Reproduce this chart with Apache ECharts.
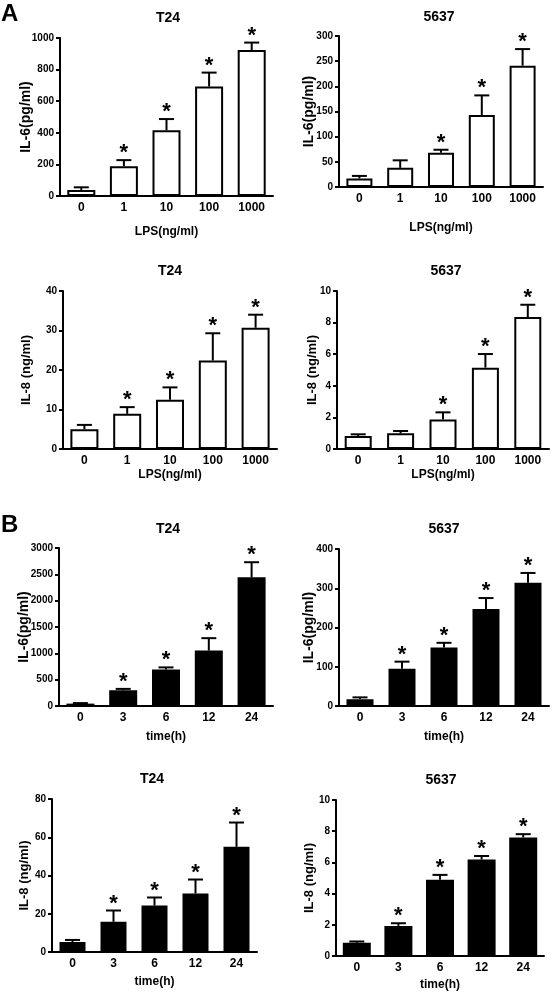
<!DOCTYPE html>
<html><head><meta charset="utf-8">
<script src="https://cdn.jsdelivr.net/npm/echarts@6/dist/echarts.min.js"></script>
<style>html,body{margin:0;padding:0;background:#fff}#c{width:552px;height:992px}</style>
</head><body><div id="c"></div>
<script>
// ---- data ----
const lpsCats = ['0','1','10','100','1000'];
const timeCats = ['0','3','6','12','24'];

const t24Il6Lps = [38,189,416,693,924];
const t24Il6LpsSd = [17,38,71,88,47];
const t24Il6LpsSig = [0,1,1,1,1];

const c5637Il6Lps = [17,38,68,143,241];
const c5637Il6LpsSd = [5,15,6,39,33];
const c5637Il6LpsSig = [0,0,1,1,1];

const t24Il8Lps = [5.0,8.9,12.5,22.4,30.7];
const t24Il8LpsSd = [1.1,1.7,3.1,6.9,3.3];
const t24Il8LpsSig = [0,1,1,1,1];

const c5637Il8Lps = [0.82,0.99,1.86,5.15,8.35];
const c5637Il8LpsSd = [0.11,0.15,0.46,0.86,0.78];
const c5637Il8LpsSig = [0,0,1,1,1];

const t24Il6Time = [45,300,695,1052,2443];
const t24Il6TimeSd = [10,25,38,236,287];
const t24Il6TimeSig = [0,1,1,1,1];

const c5637Il6Time = [17,95,149,247,314];
const c5637Il6TimeSd = [5,18,12,28,25];
const c5637Il6TimeSig = [0,1,1,1,1];

const t24Il8Time = [5.2,15.8,24.3,30.6,55.0];
const t24Il8TimeSd = [1.1,5.9,4.2,7.3,12.7];
const t24Il8TimeSig = [0,1,1,1,1];

const c5637Il8Time = [0.85,1.93,4.88,6.18,7.6];
const c5637Il8TimeSd = [0.08,0.17,0.32,0.23,0.21];
const c5637Il8TimeSig = [0,1,1,1,1];

const yMaxes = [1000,300,40,10,3000,400,80,10];
const yIntervals = [200,50,10,2,500,100,20,2];

// ---- layout ----
const FONT = '"Liberation Sans", Arial, sans-serif';
const panels = [
  {cats:lpsCats, v:t24Il6Lps, sd:t24Il6LpsSd, sig:t24Il6LpsSig, title:'T24', xName:'LPS(ng/ml)', yName:'IL-6(pg/ml)', fill:'#fff',
   g:{left:60,top:38,width:213,height:158}, tx:168, ty:18, xGap:30, yGap:27, ynFont:14, bw:28},
  {cats:lpsCats, v:c5637Il6Lps, sd:c5637Il6LpsSd, sig:c5637Il6LpsSig, title:'5637', xName:'LPS(ng/ml)', yName:'IL-6(pg/ml)', fill:'#fff',
   g:{left:339,top:36,width:204,height:151}, tx:439, ty:17, xGap:35, yGap:23, ynFont:14, bw:26},
  {cats:lpsCats, v:t24Il8Lps, sd:t24Il8LpsSd, sig:t24Il8LpsSig, title:'T24', xName:'LPS(ng/ml)', yName:'IL-8 (ng/ml)', fill:'#fff',
   g:{left:63,top:291,width:214,height:158}, tx:170, ty:271, xGap:20, yGap:30, ynFont:13, bw:28},
  {cats:lpsCats, v:c5637Il8Lps, sd:c5637Il8LpsSd, sig:c5637Il8LpsSig, title:'5637', xName:'LPS(ng/ml)', yName:'IL-8 (ng/ml)', fill:'#fff',
   g:{left:337,top:291,width:212,height:158}, tx:446, ty:271, xGap:20, yGap:18, ynFont:13, bw:27},
  {cats:timeCats, v:t24Il6Time, sd:t24Il6TimeSd, sig:t24Il6TimeSig, title:'T24', xName:'time(h)', yName:'IL-6(pg/ml)', fill:'#000',
   g:{left:59,top:548,width:214,height:158}, tx:168, ty:529, xGap:25, yGap:28, ynFont:14, bw:28},
  {cats:timeCats, v:c5637Il6Time, sd:c5637Il6TimeSd, sig:c5637Il6TimeSig, title:'5637', xName:'time(h)', yName:'IL-6(pg/ml)', fill:'#000',
   g:{left:339,top:549,width:210,height:157}, tx:444, ty:529, xGap:25, yGap:23, ynFont:14, bw:27},
  {cats:timeCats, v:t24Il8Time, sd:t24Il8TimeSd, sig:t24Il8TimeSig, title:'T24', xName:'time(h)', yName:'IL-8 (ng/ml)', fill:'#000',
   g:{left:52,top:799,width:205,height:153}, tx:152, ty:779, xGap:24, yGap:21, ynFont:13, bw:26},
  {cats:timeCats, v:c5637Il8Time, sd:c5637Il8TimeSd, sig:c5637Il8TimeSig, title:'5637', xName:'time(h)', yName:'IL-8 (ng/ml)', fill:'#000',
   g:{left:336,top:800,width:208,height:156}, tx:441, ty:780, xGap:23, yGap:20, ynFont:13, bw:28}
];

function errRender(params, api) {
  const x = api.value(0), m = api.value(1), sd = api.value(2), sig = api.value(3);
  const p0 = api.coord([x, m]);
  const p1 = api.coord([x, m + sd]);
  const hw = 7.5;
  const children = [
    {type:'line', shape:{x1:p0[0], y1:p0[1], x2:p1[0], y2:p1[1]}, style:{stroke:'#000', lineWidth:2}},
    {type:'line', shape:{x1:p1[0]-hw, y1:p1[1], x2:p1[0]+hw, y2:p1[1]}, style:{stroke:'#000', lineWidth:2}}
  ];
  if (sig) {
    children.push({type:'text', x:p1[0], y:p1[1]-7,
      style:{text:'*', font:'bold 22px ' + FONT, fill:'#000', align:'center', verticalAlign:'middle'}});
  }
  return {type:'group', children};
}

const grids = [], xAxes = [], yAxes = [], series = [], graphics = [];
panels.forEach((p, i) => {
  grids.push(Object.assign({containLabel:false}, p.g));
  xAxes.push({
    type:'category', gridIndex:i, data:p.cats,
    axisLine:{lineStyle:{color:'#000', width:2}},
    axisTick:{show:false},
    axisLabel:{color:'#000', fontWeight:'bold', fontSize:12, fontFamily:FONT, margin:6},
    name:p.xName, nameLocation:'middle', nameGap:p.xGap, nameMoveOverlap:false,
    nameTextStyle:{color:'#000', fontWeight:'bold', fontSize:12, fontFamily:FONT}
  });
  yAxes.push({
    type:'value', gridIndex:i, min:0, max:yMaxes[i], interval:yIntervals[i],
    splitLine:{show:false},
    axisLine:{show:true, lineStyle:{color:'#000', width:2}},
    axisTick:{show:true, length:4, lineStyle:{color:'#000', width:2}},
    axisLabel:{color:'#000', fontWeight:'bold', fontSize:10, fontFamily:FONT, margin:6,
      formatter:(v) => String(v)},
    name:p.yName, nameLocation:'middle', nameGap:p.yGap, nameMoveOverlap:false,
    nameTextStyle:{color:'#000', fontWeight:'bold', fontSize:p.ynFont, fontFamily:FONT}
  });
  series.push({
    type:'bar', xAxisIndex:i, yAxisIndex:i, data:p.v, barWidth:p.bw,
    itemStyle:{color:p.fill, borderColor:'#000', borderWidth:2},
    z:2, silent:true
  });
  series.push({
    type:'custom', xAxisIndex:i, yAxisIndex:i, renderItem:errRender, clip:false,
    data:p.v.map((v, k) => [k, v, p.sd[k], p.sig[k]]),
    encode:{x:0, y:1}, z:3, silent:true
  });
  graphics.push({type:'text', x:p.tx, y:p.ty,
    style:{text:p.title, font:'bold 14px ' + FONT, fill:'#000', align:'center', verticalAlign:'middle'}});
});
graphics.push({type:'text', x:1, y:14, style:{text:'A', font:'bold 24px ' + FONT, fill:'#000', align:'left', verticalAlign:'middle'}});
graphics.push({type:'text', x:1, y:525, style:{text:'B', font:'bold 24px ' + FONT, fill:'#000', align:'left', verticalAlign:'middle'}});

const chart = echarts.init(document.getElementById('c'), null, {renderer:'canvas'});
chart.setOption({
  animation:false,
  backgroundColor:'#fff',
  grid:grids, xAxis:xAxes, yAxis:yAxes, series:series, graphic:graphics
});
</script></body></html>
